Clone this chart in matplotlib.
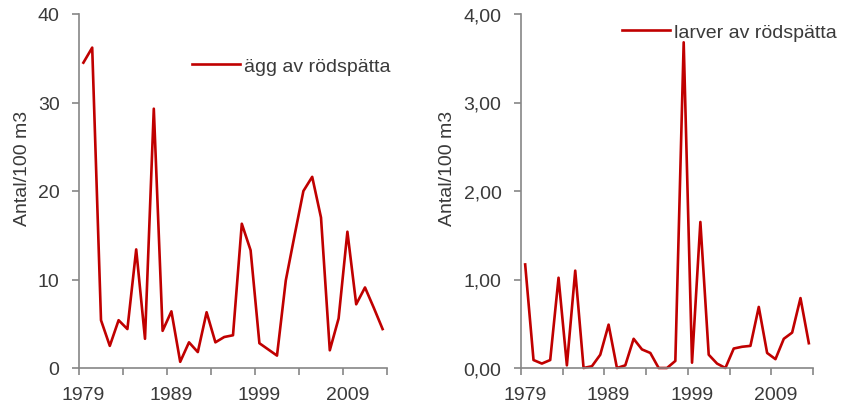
import numpy as np
import matplotlib
matplotlib.use("Agg")
import matplotlib.pyplot as plt
from matplotlib.ticker import FuncFormatter, FixedLocator

years = list(range(1979, 2014))

# ägg av rödspätta (Antal/100 m3)
agg = [34.5, 36.2, 5.4, 2.5, 5.4, 4.4, 13.4, 3.3, 29.3, 4.2,
       6.4, 0.7, 2.9, 1.8, 6.3, 2.9, 3.5, 3.7, 16.3, 13.3,
       2.8, 2.1, 1.4, 9.9, 15.0, 20.0, 21.6, 17.0, 2.0, 5.6,
       15.4, 7.2, 9.1, 6.8, 4.4]

# larver av rödspätta (Antal/100 m3)
larver = [1.17, 0.09, 0.05, 0.09, 1.02, 0.03, 1.10, 0.00, 0.02, 0.15,
          0.49, 0.00, 0.03, 0.33, 0.21, 0.17, 0.00, 0.00, 0.08, 3.68,
          0.06, 1.65, 0.15, 0.05, 0.00, 0.22, 0.24, 0.25, 0.69, 0.17,
          0.10, 0.33, 0.40, 0.79, 0.28]

year_labels = [1979, 1989, 1999, 2009]

plt.rcParams['font.family'] = ['Liberation Sans', 'DejaVu Sans']
RED = '#C00000'
AXC = '#868686'
TXT = '#3a3a3a'
FS = 14

fig = plt.figure(figsize=(8.43, 4.06), dpi=100)
ax1 = fig.add_axes([79 / 843, 37 / 406, 308 / 843, 354 / 406])
ax2 = fig.add_axes([521 / 843, 37 / 406, 292 / 843, 354 / 406])


def style(ax, ymax, ystep, fmt):
    for s in ['top', 'right']:
        ax.spines[s].set_visible(False)
    for s in ['left', 'bottom']:
        ax.spines[s].set_color(AXC)
        ax.spines[s].set_linewidth(1.2)
    ax.set_xlim(1978.5, 2013.5)
    ax.set_ylim(0, ymax)
    ax.set_yticks(np.arange(0, ymax + ystep / 2, ystep))
    ax.yaxis.set_major_formatter(FuncFormatter(fmt))
    ax.tick_params(axis='y', direction='out', length=5, width=1.2, color=AXC,
                   labelsize=FS, labelcolor=TXT, pad=9)
    # tick marks every 5 years between categories, labels every 10 years
    ax.xaxis.set_major_locator(FixedLocator(np.arange(1978.5, 2014, 5)))
    ax.xaxis.set_major_formatter(FuncFormatter(lambda v, p: ''))
    ax.xaxis.set_minor_locator(FixedLocator(year_labels))
    ax.xaxis.set_minor_formatter(FuncFormatter(lambda v, p: '%d' % v))
    ax.tick_params(axis='x', which='major', direction='out', length=5, width=1.2, color=AXC)
    ax.tick_params(axis='x', which='minor', length=0, labelsize=FS, labelcolor=TXT, pad=13)
    ax.set_ylabel('Antal/100 m3', fontsize=FS, color=TXT)
    ax.set_facecolor('none')


ax1.plot(years, agg, color=RED, lw=1.9, label='ägg av rödspätta', clip_on=False)
style(ax1, 40, 10, lambda v, p: '%d' % v)
ax1.yaxis.set_label_coords(-48 / 308, 0.566)

ax2.plot(years, larver, color=RED, lw=1.9, label='larver av rödspätta', clip_on=False)
style(ax2, 4, 1, lambda v, p: ('%.2f' % v).replace('.', ','))
ax2.yaxis.set_label_coords(-65 / 292, 0.566)

ax1.legend(loc='center left', bbox_to_anchor=(192 / 843, 1 - 67 / 406),
           bbox_transform=fig.transFigure, frameon=False, fontsize=FS,
           handlelength=2.45, handletextpad=0.25, borderpad=0, borderaxespad=0,
           labelcolor=TXT)
ax2.legend(loc='center left', bbox_to_anchor=(622 / 843, 1 - 33 / 406),
           bbox_transform=fig.transFigure, frameon=False, fontsize=FS,
           handlelength=2.45, handletextpad=0.25, borderpad=0, borderaxespad=0,
           labelcolor=TXT)

fig.savefig('out.png', dpi=100)
